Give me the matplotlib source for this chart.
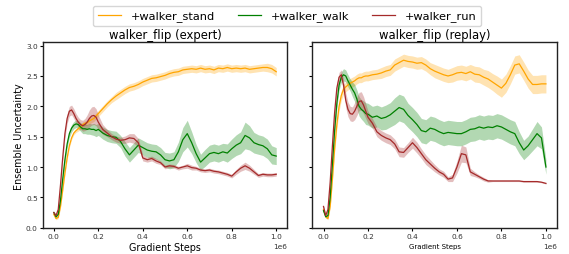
import matplotlib
matplotlib.use("Agg")
import matplotlib.pyplot as plt
import numpy as np

steps = [0.00, 0.01, 0.02, 0.03, 0.04, 0.05, 0.06, 0.07, 0.08, 0.09, 0.10,
         0.11, 0.12, 0.13, 0.14, 0.15, 0.16, 0.17, 0.18, 0.19, 0.20,
         0.22, 0.24, 0.26, 0.28, 0.30, 0.32, 0.34, 0.36, 0.38, 0.40,
         0.42, 0.44, 0.46, 0.48, 0.50, 0.52, 0.54, 0.56, 0.58, 0.60,
         0.62, 0.64, 0.66, 0.68, 0.70, 0.72, 0.74, 0.76, 0.78, 0.80,
         0.82, 0.84, 0.86, 0.88, 0.90, 0.92, 0.94, 0.96, 0.98, 1.00]

series_names = ["+walker_stand", "+walker_walk", "+walker_run"]
series_colors = ["orange", "green", "brown"]
panel_titles = ["walker_flip (expert)", "walker_flip (replay)"]

# ---- expert panel ----
expert_stand = [0.22, 0.15, 0.17, 0.35, 0.62, 0.90, 1.15, 1.35, 1.48, 1.56, 1.60,
                1.63, 1.66, 1.70, 1.72, 1.73, 1.76, 1.78, 1.80, 1.84, 1.88,
                1.96, 2.04, 2.11, 2.17, 2.22, 2.27, 2.31, 2.33, 2.36, 2.40,
                2.43, 2.46, 2.47, 2.49, 2.51, 2.54, 2.56, 2.57, 2.60, 2.61,
                2.62, 2.61, 2.63, 2.61, 2.62, 2.60, 2.63, 2.62, 2.64, 2.62,
                2.63, 2.62, 2.63, 2.61, 2.62, 2.63, 2.64, 2.64, 2.62, 2.57]
expert_stand_sd = [0.02, 0.02, 0.02, 0.03, 0.03, 0.03, 0.03, 0.03, 0.03, 0.03, 0.03,
                   0.04, 0.04, 0.04, 0.04, 0.04, 0.05, 0.05, 0.05, 0.05, 0.05,
                   0.05, 0.05, 0.05, 0.06, 0.06, 0.06, 0.06, 0.06, 0.06, 0.06,
                   0.06, 0.06, 0.06, 0.06, 0.06, 0.06, 0.06, 0.06, 0.06, 0.06,
                   0.06, 0.06, 0.06, 0.06, 0.06, 0.06, 0.06, 0.06, 0.06, 0.06,
                   0.06, 0.06, 0.06, 0.06, 0.06, 0.06, 0.06, 0.07, 0.07, 0.07]
expert_walk = [0.25, 0.18, 0.22, 0.45, 0.80, 1.12, 1.38, 1.55, 1.64, 1.69, 1.71,
               1.70, 1.66, 1.63, 1.63, 1.62, 1.63, 1.62, 1.62, 1.60, 1.62,
               1.56, 1.52, 1.50, 1.49, 1.42, 1.30, 1.20, 1.28, 1.36, 1.32,
               1.28, 1.26, 1.25, 1.20, 1.12, 1.10, 1.12, 1.25, 1.45, 1.55,
               1.40, 1.22, 1.08, 1.15, 1.22, 1.24, 1.22, 1.25, 1.23, 1.30,
               1.36, 1.40, 1.52, 1.48, 1.40, 1.37, 1.35, 1.30, 1.20, 1.18]
expert_walk_sd = [0.02, 0.02, 0.03, 0.04, 0.05, 0.06, 0.06, 0.06, 0.06, 0.06, 0.06,
                  0.07, 0.07, 0.08, 0.08, 0.08, 0.09, 0.09, 0.10, 0.10, 0.10,
                  0.10, 0.10, 0.10, 0.10, 0.10, 0.12, 0.12, 0.12, 0.12, 0.12,
                  0.12, 0.12, 0.12, 0.12, 0.12, 0.13, 0.13, 0.16, 0.20, 0.22,
                  0.18, 0.15, 0.13, 0.14, 0.14, 0.14, 0.14, 0.14, 0.15, 0.16,
                  0.17, 0.18, 0.22, 0.20, 0.17, 0.16, 0.16, 0.16, 0.15, 0.14]
expert_run = [0.25, 0.20, 0.30, 0.70, 1.15, 1.55, 1.80, 1.92, 1.94, 1.88, 1.80,
              1.74, 1.70, 1.68, 1.70, 1.74, 1.80, 1.84, 1.85, 1.82, 1.74,
              1.62, 1.56, 1.50, 1.46, 1.44, 1.45, 1.48, 1.47, 1.40, 1.15,
              1.12, 1.14, 1.10, 1.07, 1.00, 1.02, 1.01, 0.98, 1.00, 1.02,
              0.99, 0.98, 0.95, 0.94, 0.95, 0.93, 0.92, 0.90, 0.88, 0.85,
              0.92, 0.98, 1.02, 0.98, 0.92, 0.86, 0.88, 0.87, 0.87, 0.88]
expert_run_sd = [0.02, 0.02, 0.03, 0.05, 0.06, 0.07, 0.08, 0.08, 0.08, 0.08, 0.08,
                 0.08, 0.08, 0.09, 0.10, 0.12, 0.14, 0.15, 0.15, 0.14, 0.12,
                 0.08, 0.06, 0.05, 0.05, 0.05, 0.06, 0.07, 0.08, 0.07, 0.05,
                 0.04, 0.04, 0.04, 0.03, 0.03, 0.03, 0.03, 0.03, 0.03, 0.04,
                 0.04, 0.03, 0.03, 0.03, 0.03, 0.03, 0.03, 0.03, 0.03, 0.03,
                 0.04, 0.05, 0.06, 0.05, 0.04, 0.03, 0.03, 0.03, 0.03, 0.03]

# ---- replay panel ----
replay_stand = [0.30, 0.18, 0.15, 0.35, 0.80, 1.30, 1.70, 2.00, 2.18, 2.28, 2.32,
                2.35, 2.38, 2.40, 2.42, 2.45, 2.47, 2.47, 2.49, 2.50, 2.50,
                2.52, 2.53, 2.55, 2.58, 2.60, 2.68, 2.72, 2.76, 2.74, 2.73,
                2.71, 2.72, 2.68, 2.62, 2.58, 2.55, 2.52, 2.50, 2.52, 2.55,
                2.56, 2.54, 2.57, 2.53, 2.52, 2.48, 2.45, 2.40, 2.35, 2.30,
                2.38, 2.52, 2.68, 2.70, 2.58, 2.45, 2.36, 2.36, 2.37, 2.37]
replay_stand_sd = [0.02, 0.02, 0.02, 0.03, 0.05, 0.06, 0.07, 0.08, 0.08, 0.08, 0.08,
                   0.08, 0.08, 0.08, 0.08, 0.08, 0.08, 0.08, 0.08, 0.08, 0.08,
                   0.08, 0.08, 0.09, 0.09, 0.09, 0.10, 0.10, 0.10, 0.10, 0.10,
                   0.10, 0.10, 0.10, 0.10, 0.11, 0.11, 0.11, 0.11, 0.12, 0.12,
                   0.12, 0.12, 0.12, 0.13, 0.13, 0.13, 0.14, 0.14, 0.15, 0.15,
                   0.15, 0.15, 0.15, 0.15, 0.15, 0.15, 0.15, 0.15, 0.15, 0.15]
replay_walk = [0.28, 0.18, 0.20, 0.50, 1.05, 1.60, 2.05, 2.35, 2.48, 2.52, 2.50,
               2.42, 2.35, 2.28, 2.22, 2.12, 2.00, 1.95, 1.92, 1.88, 1.87,
               1.82, 1.84, 1.80, 1.82, 1.86, 1.92, 1.98, 1.95, 1.85, 1.78,
               1.70, 1.60, 1.58, 1.64, 1.62, 1.58, 1.55, 1.57, 1.56, 1.55,
               1.55, 1.58, 1.62, 1.63, 1.66, 1.64, 1.66, 1.65, 1.68, 1.66,
               1.62, 1.58, 1.55, 1.40, 1.28, 1.35, 1.45, 1.55, 1.48, 1.00]
replay_walk_sd = [0.02, 0.02, 0.03, 0.05, 0.06, 0.07, 0.08, 0.08, 0.09, 0.10, 0.10,
                  0.10, 0.10, 0.12, 0.14, 0.15, 0.16, 0.16, 0.17, 0.18, 0.18,
                  0.18, 0.18, 0.19, 0.20, 0.20, 0.22, 0.22, 0.22, 0.20, 0.20,
                  0.20, 0.20, 0.20, 0.20, 0.20, 0.20, 0.20, 0.20, 0.20, 0.20,
                  0.20, 0.20, 0.20, 0.20, 0.20, 0.20, 0.20, 0.20, 0.20, 0.20,
                  0.20, 0.20, 0.20, 0.18, 0.16, 0.16, 0.18, 0.20, 0.18, 0.12]
replay_run = [0.35, 0.20, 0.30, 0.75, 1.35, 1.90, 2.30, 2.48, 2.52, 2.35, 2.10,
              1.95, 1.88, 1.87, 1.92, 2.00, 2.08, 2.09, 2.02, 1.92, 1.82,
              1.72, 1.58, 1.52, 1.48, 1.45, 1.38, 1.25, 1.24, 1.32, 1.40,
              1.32, 1.22, 1.12, 1.05, 0.98, 0.92, 0.88, 0.80, 0.82, 1.00,
              1.22, 1.20, 0.92, 0.88, 0.84, 0.80, 0.77, 0.77, 0.77, 0.77,
              0.77, 0.77, 0.77, 0.77, 0.76, 0.76, 0.76, 0.76, 0.75, 0.73]
replay_run_sd = [0.02, 0.02, 0.03, 0.05, 0.06, 0.07, 0.08, 0.08, 0.08, 0.10, 0.12,
                 0.12, 0.12, 0.12, 0.14, 0.15, 0.15, 0.15, 0.14, 0.12, 0.10,
                 0.08, 0.08, 0.08, 0.08, 0.08, 0.08, 0.08, 0.08, 0.08, 0.09,
                 0.09, 0.08, 0.08, 0.07, 0.06, 0.05, 0.05, 0.04, 0.06, 0.10,
                 0.14, 0.13, 0.06, 0.04, 0.03, 0.03, 0.02, 0.01, 0.01, 0.01,
                 0.01, 0.01, 0.01, 0.01, 0.01, 0.01, 0.01, 0.01, 0.01, 0.01]

panels = [
    [(expert_stand, expert_stand_sd), (expert_walk, expert_walk_sd), (expert_run, expert_run_sd)],
    [(replay_stand, replay_stand_sd), (replay_walk, replay_walk_sd), (replay_run, replay_run_sd)],
]

fig = plt.figure(figsize=(5.69, 2.55), dpi=100)
ax1 = fig.add_axes([0.075, 0.1008, 0.43, 0.7294])
ax2 = fig.add_axes([0.549, 0.1008, 0.43, 0.7294], sharey=ax1)
axes = [ax1, ax2]

x = np.array(steps) * 1e6
handles = []
for ax, panel, title in zip(axes, panels, panel_titles):
    for (mean, sd), name, color in zip(panel, series_names, series_colors):
        m = np.array(mean)
        s = np.array(sd)
        line, = ax.plot(x, m, color=color, lw=0.9, label=name)
        ax.fill_between(x, m - s, m + s, color=color, alpha=0.3, lw=0)
        if ax is ax1:
            handles.append(line)
    ax.set_title(title, fontsize=8.4, pad=3)
    ax.tick_params(axis="x", labelsize=5.3, length=2.0, width=0.8, pad=1.2,
                   labelcolor="#333333")
    ax.tick_params(axis="y", labelsize=5.3, length=2.5, width=0.8, pad=1.0,
                   labelcolor="#333333")
    ax.xaxis.get_offset_text().set_fontsize(5.3)
    ax.xaxis.get_offset_text().set_color("#333333")
    for sp in ax.spines.values():
        sp.set_linewidth(1.0)
        sp.set_color("#222222")

ax1.set_ylim(-0.01, 3.055)
ax1.set_yticks([0.0, 0.5, 1.0, 1.5, 2.0, 2.5, 3.0])
ax2.tick_params(labelleft=False)
ax1.set_ylabel("Ensemble Uncertainty", fontsize=6.9, labelpad=1.5)
ax1.set_xlabel("Gradient Steps", fontsize=6.9, labelpad=2.5)
ax2.set_xlabel("Gradient Steps", fontsize=5.0, labelpad=3.0)
for ax in axes:
    ax.set_xticks([0, 0.2e6, 0.4e6, 0.6e6, 0.8e6, 1.0e6])

fig.legend(handles, series_names, loc="upper center", bbox_to_anchor=(0.505, 0.995),
           ncol=3, fontsize=8.2, frameon=True, columnspacing=2.0,
           handlelength=2.0, handletextpad=0.9, borderpad=0.4)

fig.savefig("out.png", dpi=100)
